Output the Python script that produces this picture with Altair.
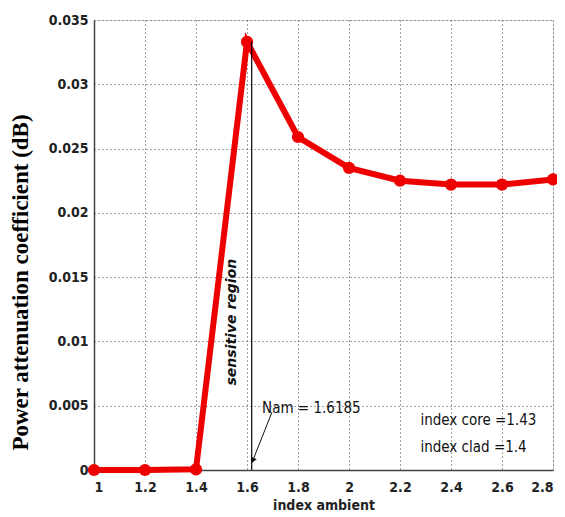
import altair as alt
import pandas as pd

x_vals = [1.0, 1.2, 1.4, 1.6, 1.8, 2.0, 2.2, 2.4, 2.6, 2.8]
y_vals = [0.0, 0.0, 0.00005, 0.0333, 0.0259, 0.0235, 0.0225, 0.0222, 0.0222, 0.0226]

nam = 1.6185
x_ticks = [1.0, 1.2, 1.4, 1.6, 1.8, 2.0, 2.2, 2.4, 2.6, 2.8]
y_ticks = [0, 0.005, 0.01, 0.015, 0.02, 0.025, 0.03, 0.035]

label_texts = ["index core =1.43", "index clad =1.4"]
label_x = [2.28, 2.28]
label_y = [0.0039, 0.0018]

arrow_x = [1.698, 1.624]
arrow_y = [0.0045, 0.0008]

NARROW = "DejaVu Sans Condensed, Liberation Sans Narrow, Arial"

df = pd.DataFrame({"x": x_vals, "y": y_vals})

xs = alt.Scale(domain=[1, 2.8], nice=False, zero=False)
ys = alt.Scale(domain=[0, 0.035], nice=False)

xaxis = alt.Axis(values=x_ticks, format="~g", title="index ambient",
                 labelFont=NARROW, labelFontSize=14, labelFontWeight="bold", labelColor="#222",
                 titleFont=NARROW, titleFontSize=14, titleFontWeight="bold", titleColor="#222",
                 titlePadding=4, labelPadding=10, ticks=False, domainColor="#444", domainWidth=1.5,
                 grid=True, gridColor="#444", gridDash=[1, 3], gridWidth=1)
yaxis = alt.Axis(values=y_ticks, format="~g", title="Power attenuation coefficient (dB)",
                 labelFont=NARROW, labelFontSize=14, labelFontWeight="bold", labelColor="#222",
                 titleFont="Liberation Serif, Times New Roman, serif", titleFontSize=23,
                 titleFontWeight="bold", titleColor="#000", titleX=-62, titleY=262,
                 labelPadding=6, ticks=False, domainColor="#444", domainWidth=1.5,
                 grid=True, gridColor="#444", gridDash=[1, 3], gridWidth=1)

base = alt.Chart(df)

line = base.mark_line(color="#ee0000", strokeWidth=6).encode(
    x=alt.X("x:Q", scale=xs, axis=xaxis),
    y=alt.Y("y:Q", scale=ys, axis=yaxis),
)
pts = base.mark_circle(color="#ee0000", size=150, opacity=1).encode(
    x=alt.X("x:Q", scale=xs), y=alt.Y("y:Q", scale=ys))

vline_df = pd.DataFrame({"x": [nam], "y": [0.0], "y2": [y_vals[3]]})
vline = alt.Chart(vline_df).mark_rule(color="#000", strokeWidth=1.2).encode(
    x=alt.X("x:Q", scale=xs), y=alt.Y("y:Q", scale=ys), y2="y2:Q")

sens = alt.Chart(pd.DataFrame({"x": [1.541], "y": [0.0115], "t": ["sensitive region"]})).mark_text(
    angle=270, font="DejaVu Sans, Arial", fontSize=14, fontWeight="bold", fontStyle="italic",
    color="#111").encode(x=alt.X("x:Q", scale=xs), y=alt.Y("y:Q", scale=ys), text="t:N")

namtxt = alt.Chart(pd.DataFrame({"x": [1.659], "y": [0.0048], "t": ["Nam = 1.6185"]})).mark_text(
    align="left", font=NARROW, fontSize=15, color="#111").encode(
    x=alt.X("x:Q", scale=xs), y=alt.Y("y:Q", scale=ys), text="t:N")

arrow_df = pd.DataFrame({"x": arrow_x, "y": arrow_y, "o": [0, 1]})
arrow = alt.Chart(arrow_df).mark_line(color="#111", strokeWidth=1).encode(
    x=alt.X("x:Q", scale=xs), y=alt.Y("y:Q", scale=ys), order="o:Q")
head = alt.Chart(arrow_df.iloc[[1]]).mark_point(shape="triangle", filled=True, size=40,
                                                 color="#111", angle=202, opacity=1).encode(
    x=alt.X("x:Q", scale=xs), y=alt.Y("y:Q", scale=ys))

info = alt.Chart(pd.DataFrame({"x": label_x, "y": label_y, "t": label_texts})).mark_text(
    align="left", font=NARROW, fontSize=15, color="#111").encode(
    x=alt.X("x:Q", scale=xs), y=alt.Y("y:Q", scale=ys), text="t:N")

chart = alt.layer(line, pts, vline, sens, namtxt, arrow, head, info).properties(
    width=459, height=450,
    autosize=alt.AutoSizeParams(type="none"),
    padding={"left": 86, "top": 12, "right": 4, "bottom": 48},
).configure_view(stroke=None).configure(background="white")

chart.save("out.html", embed_options={"renderer": "svg", "actions": False})
